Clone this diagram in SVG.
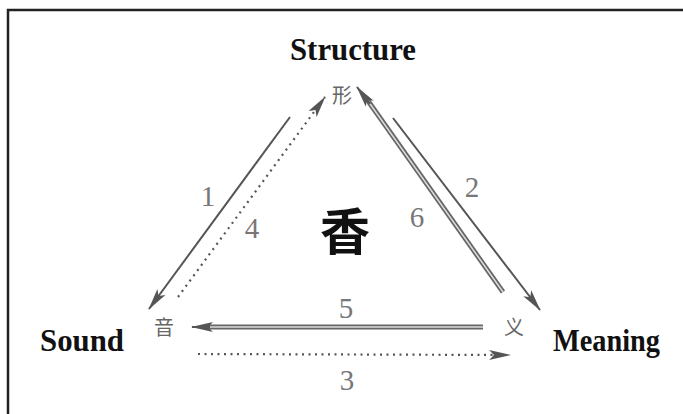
<svg xmlns="http://www.w3.org/2000/svg" width="683" height="414" viewBox="0 0 683 414">
<style>
.title{font-family:"Liberation Serif",serif;font-weight:bold;font-size:31px;fill:#111}
.cjk{font-family:"Noto Sans CJK SC",sans-serif;font-size:20px;fill:#666}
.num{font-family:"Liberation Serif",serif;font-size:29px;fill:#777}
.solid{stroke:#555;stroke-width:2;fill:none}
.dot{stroke:#555;stroke-width:2.2;stroke-dasharray:2 4.5;fill:none}
.dbl{stroke:#666;stroke-width:5;fill:none}
.dblin{stroke:#ddd;stroke-width:1.5;fill:none}
</style>
<defs>
<marker id="ah" viewBox="0 0 22 12" refX="21" refY="6" markerWidth="22" markerHeight="12" markerUnits="userSpaceOnUse" orient="auto">
<path d="M0,1 L22,6 L0,11 L5,6 Z" fill="#555"/>
</marker>
</defs>
<rect width="683" height="414" fill="#fff"/>
<path d="M8,414 V10 H683" fill="none" stroke="#222" stroke-width="2.5"/>
<g id="structure"><text class="title" x="290" y="60" textLength="126" lengthAdjust="spacingAndGlyphs">Structure</text><text class="cjk" x="342" y="103" text-anchor="middle">形</text></g>
<g id="sound"><text class="title" x="40" y="351" textLength="84" lengthAdjust="spacingAndGlyphs">Sound</text><text class="cjk" x="164" y="335" text-anchor="middle">音</text></g>
<g id="meaning"><text class="title" x="553" y="351" textLength="107" lengthAdjust="spacingAndGlyphs">Meaning</text><text class="cjk" x="514" y="335" text-anchor="middle">义</text></g>
<g id="center"><text x="345" y="250" text-anchor="middle" font-family="'Noto Sans CJK SC',sans-serif" font-weight="bold" font-size="50" fill="#111">香</text></g>
<g id="connectors">
<line class="solid" x1="290" y1="117" x2="149" y2="309" marker-end="url(#ah)"/>
<line class="dot" x1="178" y1="297" x2="325" y2="97" marker-end="url(#ah)"/>
<line class="solid" x1="393" y1="118" x2="540" y2="310" marker-end="url(#ah)"/>
<line class="dbl" x1="503" y1="292" x2="366" y2="98"/>
<line class="dblin" x1="503" y1="292" x2="368" y2="101"/>
<line class="solid" x1="370" y1="104" x2="357" y2="87" stroke-width="1" marker-end="url(#ah)"/>
<line class="dbl" x1="483" y1="327" x2="205" y2="327"/>
<line class="dblin" x1="483" y1="327" x2="207" y2="327"/>
<line class="solid" x1="210" y1="327" x2="192" y2="327" stroke-width="1" marker-end="url(#ah)"/>
<line class="dot" x1="198" y1="354" x2="510" y2="355" marker-end="url(#ah)"/>
</g>
<g id="labels">
<text class="num" x="208" y="206" text-anchor="middle">1</text>
<text class="num" x="252" y="238" text-anchor="middle">4</text>
<text class="num" x="472" y="197" text-anchor="middle">2</text>
<text class="num" x="417" y="227" text-anchor="middle">6</text>
<text class="num" x="346" y="318" text-anchor="middle">5</text>
<text class="num" x="347" y="390" text-anchor="middle">3</text>
</g>
</svg>
